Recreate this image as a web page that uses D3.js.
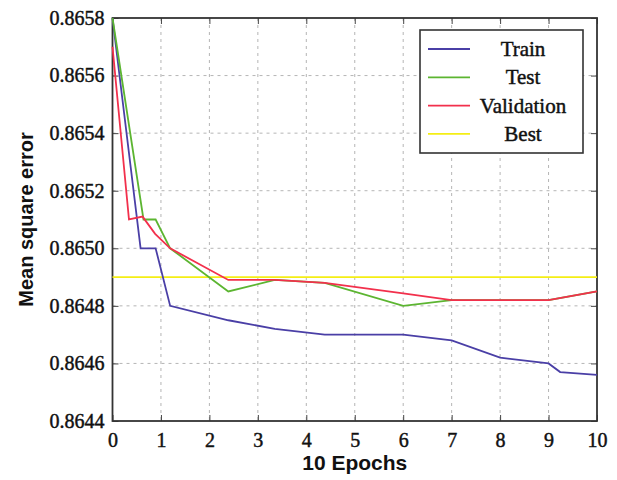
<!DOCTYPE html>
<html>
<head>
<meta charset="utf-8">
<script src="https://cdn.jsdelivr.net/npm/d3@7"></script>
<style>
  body { margin: 0; background: #fff; }
  .tick text { font-family: "Liberation Serif", serif; }
</style>
</head>
<body>
<div id="chart"></div>
<script>
// values
var trainX = [0, 0.58, 0.89, 1.19, 2.39, 3.35, 4.38, 6, 7, 8, 9, 9.24, 10];
var trainY = [0.8658, 0.8650, 0.8650, 0.8648, 0.86475, 0.86472, 0.8647, 0.8647, 0.86468, 0.86462, 0.8646, 0.86457, 0.86456];
var testX = [0, 0.64, 0.89, 1.19, 2.39, 3.35, 4.38, 6, 7, 9, 10];
var testY = [0.8658, 0.8651, 0.8651, 0.8650, 0.86485, 0.86489, 0.86488, 0.8648, 0.86482, 0.86482, 0.86485];
var valX = [0, 0.34, 0.62, 0.88, 1.19, 2.39, 3.35, 4.38, 6, 7, 9, 10];
var valY = [0.8657, 0.8651, 0.86511, 0.86505, 0.8650, 0.86489, 0.86489, 0.86488, 0.864843, 0.86482, 0.86482, 0.86485];
var bestX = [0, 10];
var bestY = [0.8649, 0.8649];

var xTicks = [0, 1, 2, 3, 4, 5, 6, 7, 8, 9, 10];
var yTicks = [0.8644, 0.8646, 0.8648, 0.8650, 0.8652, 0.8654, 0.8656, 0.8658];
var seriesNames = ["Train", "Test", "Validation", "Best"];
var seriesColors = ["#4a3fa6", "#5cb531", "#f2304c", "#f4ee14"];

var width = 617, height = 480,
    margin = {top: 18, right: 20, bottom: 59, left: 112.5};
var w = width - margin.left - margin.right,
    h = height - margin.top - margin.bottom;

var svg = d3.select("#chart").append("svg")
    .attr("width", width)
    .attr("height", height)
  .append("g")
    .attr("transform", "translate(" + margin.left + "," + margin.top + ")");

var x = d3.scaleLinear().domain([0, 10]).range([0, w]);
var y = d3.scaleLinear().domain([0.8644, 0.8658]).range([h, 0]);

// dashed grid
svg.append("g").selectAll("line").data(xTicks.slice(1, -1)).enter().append("line")
    .attr("x1", d => x(d)).attr("x2", d => x(d))
    .attr("y1", 0).attr("y2", h)
    .style("stroke", "#b5b5b5").style("stroke-dasharray", "3,4");
svg.append("g").selectAll("line").data(yTicks.slice(1, -1)).enter().append("line")
    .attr("y1", d => y(d)).attr("y2", d => y(d))
    .attr("x1", 0).attr("x2", w)
    .style("stroke", "#b5b5b5").style("stroke-dasharray", "3,4");

// axes with inward ticks
svg.append("g")
    .attr("transform", "translate(0," + h + ")")
    .call(d3.axisBottom(x).tickValues(xTicks).tickSizeInner(-6).tickSizeOuter(0).tickPadding(12).tickFormat(d3.format("d")));
svg.append("g")
    .call(d3.axisLeft(y).tickValues(yTicks).tickSizeInner(-6).tickSizeOuter(0).tickPadding(8).tickFormat(d3.format(".4f")));
svg.append("g")
    .call(d3.axisTop(x).tickValues(xTicks).tickSizeInner(-6).tickSizeOuter(0).tickFormat(""));
svg.append("g")
    .attr("transform", "translate(" + w + ",0)")
    .call(d3.axisRight(y).tickValues(yTicks).tickSizeInner(-6).tickSizeOuter(0).tickFormat(""));

svg.selectAll(".domain").style("stroke", "none");
svg.selectAll(".tick line").style("stroke", "#444");
svg.selectAll(".tick text")
    .style("font-size", "20px")
    .style("fill", "#111")
    .style("stroke", "#111")
    .style("stroke-width", 0.45);

svg.append("rect")
    .attr("width", w).attr("height", h)
    .style("fill", "none").style("stroke", "#333").style("stroke-width", 1.8);

// series
var line = d3.line().x(d => x(d[0])).y(d => y(d[1]));
var series = [
  d3.zip(trainX, trainY),
  d3.zip(testX, testY),
  d3.zip(valX, valY),
  d3.zip(bestX, bestY)
];
var drawOrder = [3, 0, 1, 2];
drawOrder.forEach(function(i) {
  svg.append("path")
    .datum(series[i])
    .attr("d", line)
    .style("fill", "none")
    .style("stroke", seriesColors[i])
    .style("stroke-width", 1.8);
});

// legend
var legend = svg.append("g").attr("transform", "translate(" + (420 - margin.left) + "," + (30 - margin.top) + ")");
legend.append("rect")
    .attr("width", 163).attr("height", 123)
    .style("fill", "#fff").style("stroke", "#333").style("stroke-width", 1.6);
seriesNames.forEach(function(name, i) {
  var ly = 19 + i * 28.3;
  legend.append("line")
    .attr("x1", 8).attr("x2", 50).attr("y1", ly).attr("y2", ly)
    .style("stroke", seriesColors[i]).style("stroke-width", 1.8);
  legend.append("text")
    .attr("x", 103).attr("y", ly + 7)
    .attr("text-anchor", "middle")
    .style("font-family", "Liberation Serif, serif")
    .style("font-size", "21px")
    .style("fill", "#111")
    .style("stroke", "#111")
    .style("stroke-width", 0.45)
    .text(name);
});

// axis titles
svg.append("text")
    .attr("x", w / 2).attr("y", h + 49)
    .attr("text-anchor", "middle")
    .style("font-family", "Liberation Sans, Arial, sans-serif")
    .style("font-size", "21px")
    .style("font-weight", "bold")
    .style("fill", "#111")
    .text("10 Epochs");
svg.append("text")
    .attr("transform", "translate(" + (-80) + "," + (h / 2) + ") rotate(-90)")
    .attr("text-anchor", "middle")
    .style("font-family", "Liberation Sans, Arial, sans-serif")
    .style("font-size", "20px")
    .style("font-weight", "bold")
    .style("fill", "#111")
    .text("Mean square error");
</script>
</body>
</html>
